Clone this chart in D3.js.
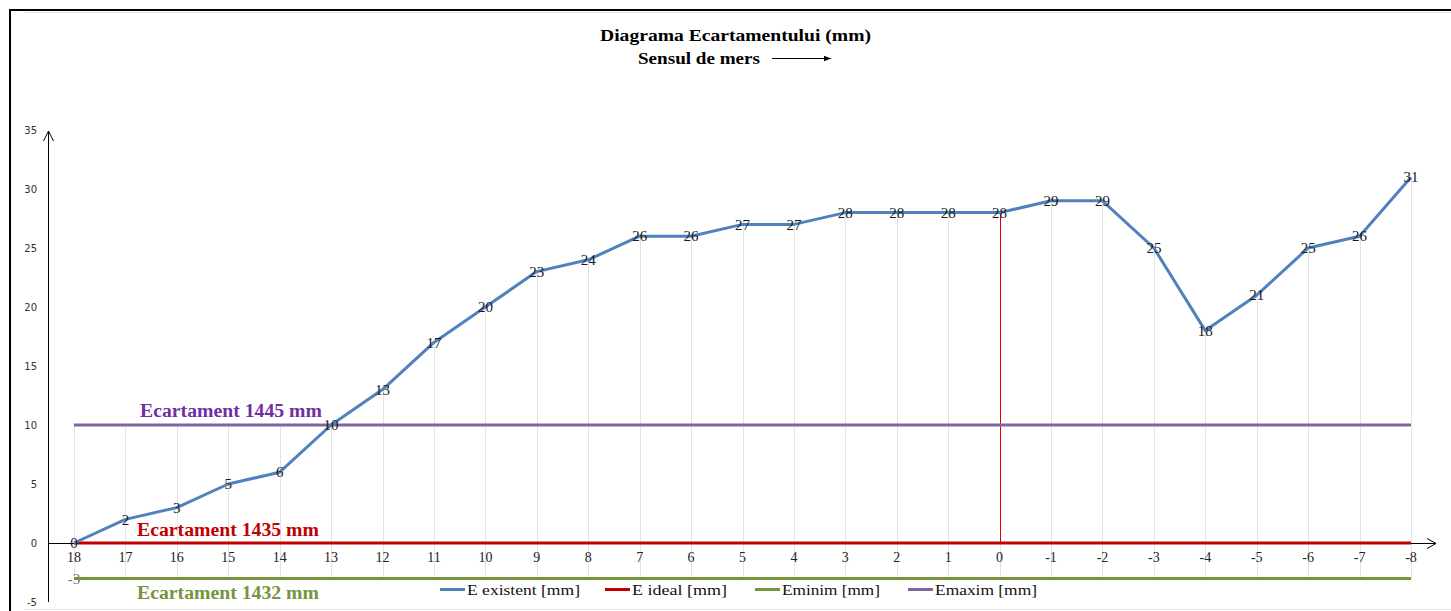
<!DOCTYPE html>
<html>
<head>
<meta charset="utf-8">
<script src="https://cdn.jsdelivr.net/npm/d3@7"></script>
<style>
  html, body { margin: 0; padding: 0; background: #fff; }
  svg { display: block; }
</style>
</head>
<body>
<svg id="chart" width="1451" height="611"></svg>
<script>
// Track gauge deviation per measuring point (mm over 1435)
const categories = ["18","17","16","15","14","13","12","11","10","9","8","7","6","5","4","3","2","1","0","-1","-2","-3","-4","-5","-6","-7","-8"];
const eExistent = [0,2,3,5,6,10,13,17,20,23,24,26,26,27,27,28,28,28,28,29,29,25,18,21,25,26,31];
const eIdeal = 0;
const eMinim = -3;
const eMaxim = 10;
const yTicks = [-5,0,5,10,15,20,25,30,35];
const seriesNames = ["E existent [mm]", "E ideal [mm]", "Eminim [mm]", "Emaxim [mm]"];
const refLabels = [
  { text: "Ecartament  1445 mm", value: eMaxim },
  { text: "Ecartament  1435 mm", value: eIdeal },
  { text: "Ecartament  1432 mm", value: eMinim }
];
const markedCategory = "0";

const colors = { existent: "#4F81BD", ideal: "#C00000", minim: "#77933C", maxim: "#8064A2" };
const textColors = ["#7030A0", "#C00000", "#77933C"];

const svg = d3.select("#chart");
const serif = "Liberation Serif, Times New Roman, serif";

// Frame
svg.append("rect").attr("x", 10).attr("y", 10).attr("width", 1460).attr("height", 620)
  .attr("fill", "none").attr("stroke", "#000").attr("stroke-width", 2);
svg.append("line").attr("x1", 25).attr("x2", 1451).attr("y1", 12.5).attr("y2", 12.5)
  .attr("stroke", "#e6e6e6").attr("stroke-width", 1);
svg.append("line").attr("x1", 25).attr("x2", 1451).attr("y1", 609.5).attr("y2", 609.5)
  .attr("stroke", "#e6e6e6").attr("stroke-width", 1);

const x = d3.scalePoint().domain(categories).range([74, 1411]);
const y = d3.scaleLinear().domain([-5, 35]).range([602, 130]);

// Titles
svg.append("text").attr("x", 600).attr("y", 41)
  .attr("font-family", serif).attr("font-weight", "bold").attr("font-size", 17)
  .attr("textLength", 271).attr("lengthAdjust", "spacingAndGlyphs")
  .text("Diagrama Ecartamentului  (mm)");
svg.append("text").attr("x", 638).attr("y", 64)
  .attr("font-family", serif).attr("font-weight", "bold").attr("font-size", 17)
  .attr("textLength", 122).attr("lengthAdjust", "spacingAndGlyphs")
  .text("Sensul de mers");
svg.append("defs").append("marker").attr("id", "dirArrow")
  .attr("viewBox", "0 0 10 10").attr("refX", 10).attr("refY", 5)
  .attr("markerWidth", 7).attr("markerHeight", 7).attr("orient", "auto")
  .attr("markerUnits", "userSpaceOnUse")
  .append("path").attr("d", "M0,1 L10,5 L0,9 Z").attr("fill", "#000");
svg.append("line").attr("x1", 772).attr("x2", 831).attr("y1", 58.5).attr("y2", 58.5)
  .attr("stroke", "#000").attr("stroke-width", 1).attr("marker-end", "url(#dirArrow)");

// High-low lines per category
const hl = svg.append("g");
categories.forEach((c, i) => {
  const vals = [eExistent[i], eIdeal, eMinim, eMaxim];
  hl.append("line")
    .attr("x1", Math.round(x(c)) + 0.5).attr("x2", Math.round(x(c)) + 0.5)
    .attr("y1", y(d3.max(vals))).attr("y2", y(d3.min(vals)))
    .attr("stroke", "#e3e3e3").attr("stroke-width", 1);
});

// Axes with open arrowheads
const axisG = svg.append("g").attr("stroke", "#000").attr("fill", "none").attr("stroke-width", 1);
const yAxisX = 48.5;
axisG.append("line").attr("x1", yAxisX).attr("x2", yAxisX).attr("y1", y(-5)).attr("y2", 131);
axisG.append("path").attr("d", `M${yAxisX - 5},${141} L${yAxisX},${131} L${yAxisX + 5},${141}`);
const y0 = Math.round(y(0)) + 0.5;
axisG.append("line").attr("x1", yAxisX).attr("x2", 1436).attr("y1", y0).attr("y2", y0);
axisG.append("path").attr("d", `M1427,${y0 - 5} L1436,${y0} L1427,${y0 + 5}`);

// Y tick labels
svg.append("g").selectAll("text").data(yTicks).join("text")
  .attr("x", 37).attr("y", d => y(d)).attr("dy", "0.35em").attr("text-anchor", "end")
  .attr("font-family", "DejaVu Sans, Verdana, sans-serif").attr("font-size", 10)
  .attr("fill", "#333").text(d => d);

// X tick labels
svg.append("g").selectAll("text").data(categories).join("text")
  .attr("x", d => x(d)).attr("y", 562).attr("text-anchor", "middle")
  .attr("font-family", serif).attr("font-size", 14).attr("fill", "#222").text(d => d);

// Marker line at chainage 0
const mi = categories.indexOf(markedCategory);
svg.append("line")
  .attr("x1", Math.round(x(markedCategory)) + 0.5).attr("x2", Math.round(x(markedCategory)) + 0.5)
  .attr("y1", y(eExistent[mi])).attr("y2", y(0))
  .attr("stroke", "#e00000").attr("stroke-width", 1);

// Constant series
const line = d3.line().x(d => x(d.c)).y(d => y(d.v));

// Minimum label at first point, partly covered by its line
svg.append("text").attr("x", x(categories[0])).attr("y", y(eMinim)).attr("dy", "0.35em")
  .attr("text-anchor", "middle").attr("font-family", serif).attr("font-size", 15)
  .attr("fill", "#777").text(eMinim);

const constSeries = [
  { v: eMaxim, color: colors.maxim },
  { v: eMinim, color: colors.minim },
  { v: eIdeal, color: colors.ideal }
];
constSeries.forEach(s => {
  svg.append("path").datum(categories.map(c => ({ c, v: s.v })))
    .attr("d", line).attr("fill", "none").attr("stroke", s.color).attr("stroke-width", 3);
});

// Existing gauge series
const existData = categories.map((c, i) => ({ c, v: eExistent[i] }));
svg.append("path").datum(existData).attr("d", line).attr("fill", "none")
  .attr("stroke", colors.existent).attr("stroke-width", 3).attr("stroke-linejoin", "round");
svg.append("g").selectAll("text").data(existData).join("text")
  .attr("x", d => x(d.c)).attr("y", d => y(d.v)).attr("dy", "0.35em")
  .attr("text-anchor", "middle").attr("font-family", serif).attr("font-size", 15)
  .attr("fill", "#1a1a1a").text(d => d.v);

// Reference annotations
svg.append("g").selectAll("text").data(refLabels).join("text")
  .attr("x", (d, i) => [140, 137, 137][i]).attr("y", (d, i) => [417, 536, 599][i])
  .attr("font-family", serif).attr("font-weight", "bold").attr("font-size", 18)
  .attr("textLength", 182).attr("lengthAdjust", "spacingAndGlyphs")
  .attr("fill", (d, i) => textColors[i]).text(d => d.text);

// Legend
const legendColors = [colors.existent, colors.ideal, colors.minim, colors.maxim];
const legendX = [440, 605, 755, 908];
const legendLen = [113, 95, 98, 102];
const lg = svg.append("g");
seriesNames.forEach((name, i) => {
  lg.append("line").attr("x1", legendX[i]).attr("x2", legendX[i] + 25)
    .attr("y1", 589.5).attr("y2", 589.5).attr("stroke", legendColors[i]).attr("stroke-width", 3);
  lg.append("text").attr("x", legendX[i] + 27).attr("y", 595)
    .attr("font-family", serif).attr("font-size", 15).attr("fill", "#111")
    .attr("textLength", legendLen[i]).attr("lengthAdjust", "spacingAndGlyphs").text(name);
});
</script>
</body>
</html>
